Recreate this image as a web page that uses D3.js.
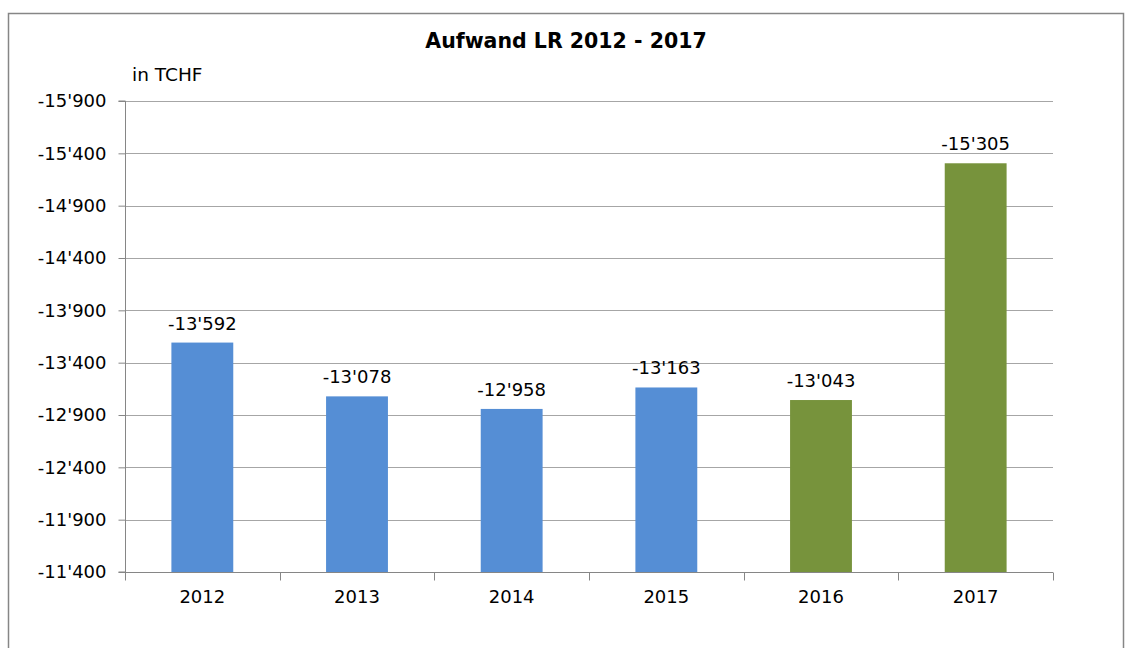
<!DOCTYPE html>
<html>
<head>
<meta charset="utf-8">
<script src="https://cdn.jsdelivr.net/npm/d3@7"></script>
<style>
  html, body { margin: 0; padding: 0; background: #fff; }
  svg { display: block; font-family: "DejaVu Sans", Verdana, sans-serif; }
</style>
</head>
<body>
<div id="chart"></div>
<script>
const years = ['2012', '2013', '2014', '2015', '2016', '2017'];
const values = [-13592, -13078, -12958, -13163, -13043, -15305];
const barColors = ['#558ed5', '#558ed5', '#558ed5', '#558ed5', '#77933c', '#77933c'];
const yTicks = [-11400, -11900, -12400, -12900, -13400, -13900, -14400, -14900, -15400, -15900];

const W = 1125, H = 648;
const margin = { top: 101, right: 72, bottom: 76, left: 125 };
const fs = 18;

const fmt = v => (v < 0 ? '-' : '') + d3.format(',')(Math.abs(v)).replace(/,/g, "'");

const svg = d3.select('#chart').append('svg')
  .attr('width', W)
  .attr('height', H);

// outer frame
svg.append('rect')
  .attr('x', 8.5).attr('y', 13.5)
  .attr('width', 1115).attr('height', 660)
  .attr('fill', 'none')
  .attr('stroke', '#868686')
  .attr('stroke-width', 1.5);

const x = d3.scaleBand()
  .domain(years)
  .range([margin.left, W - margin.right])
  .paddingInner(0.6)
  .paddingOuter(0.3);

const y = d3.scaleLinear()
  .domain([-11400, -15900])
  .range([H - margin.bottom, margin.top]);

// gridlines
svg.append('g')
  .selectAll('line')
  .data(yTicks.slice(1))
  .enter()
  .append('line')
  .attr('x1', margin.left)
  .attr('x2', W - margin.right)
  .attr('y1', d => Math.round(y(d)) + 0.5)
  .attr('y2', d => Math.round(y(d)) + 0.5)
  .attr('stroke', '#a6a6a6')
  .attr('stroke-width', 1);

// bars
svg.append('g')
  .selectAll('rect')
  .data(values)
  .enter()
  .append('rect')
  .attr('x', (d, i) => x(years[i]))
  .attr('y', d => y(d))
  .attr('width', x.bandwidth())
  .attr('height', d => y(-11400) - y(d))
  .attr('fill', (d, i) => barColors[i]);

// value labels
svg.append('g')
  .selectAll('text')
  .data(values)
  .enter()
  .append('text')
  .attr('x', (d, i) => x(years[i]) + x.bandwidth() / 2)
  .attr('y', d => y(d) - 13)
  .attr('text-anchor', 'middle')
  .attr('font-size', fs)
  .attr('fill', '#000')
  .text(d => fmt(d));

// y axis
const yAxis = d3.axisLeft(y)
  .tickValues(yTicks)
  .tickSize(7)
  .tickPadding(12)
  .tickFormat(fmt);

const gy = svg.append('g')
  .attr('transform', `translate(${margin.left + 0.5},0)`)
  .call(yAxis);
gy.select('.domain').attr('stroke', '#868686').attr('d', `M-7,${H - margin.bottom}H0V${margin.top}H-7`);
gy.selectAll('.tick line').attr('stroke', '#868686');
gy.selectAll('.tick text')
  .attr('font-size', fs)
  .attr('font-family', '"DejaVu Sans", Verdana, sans-serif')
  .attr('fill', '#000');

// x axis
const gx = svg.append('g')
  .attr('transform', `translate(0,${H - margin.bottom + 0.5})`);
gx.append('line')
  .attr('x1', margin.left).attr('x2', W - margin.right)
  .attr('stroke', '#868686');
gx.selectAll('line.sep')
  .data(years.concat(['end']))
  .enter()
  .append('line')
  .attr('class', 'sep')
  .attr('x1', (d, i) => Math.round(margin.left + i * x.step()) + 0.5)
  .attr('x2', (d, i) => Math.round(margin.left + i * x.step()) + 0.5)
  .attr('y1', 0).attr('y2', 8)
  .attr('stroke', '#868686');
gx.selectAll('text')
  .data(years)
  .enter()
  .append('text')
  .attr('x', d => x(d) + x.bandwidth() / 2)
  .attr('y', 30)
  .attr('text-anchor', 'middle')
  .attr('font-size', fs)
  .attr('fill', '#000')
  .text(d => d);

// title and unit
svg.append('text')
  .attr('x', 566)
  .attr('y', 48)
  .attr('text-anchor', 'middle')
  .attr('font-size', 20.5)
  .attr('font-weight', 'bold')
  .text('Aufwand LR 2012 - 2017');

svg.append('text')
  .attr('x', 132)
  .attr('y', 81)
  .attr('font-size', 18.5)
  .text('in TCHF');
</script>
</body>
</html>
